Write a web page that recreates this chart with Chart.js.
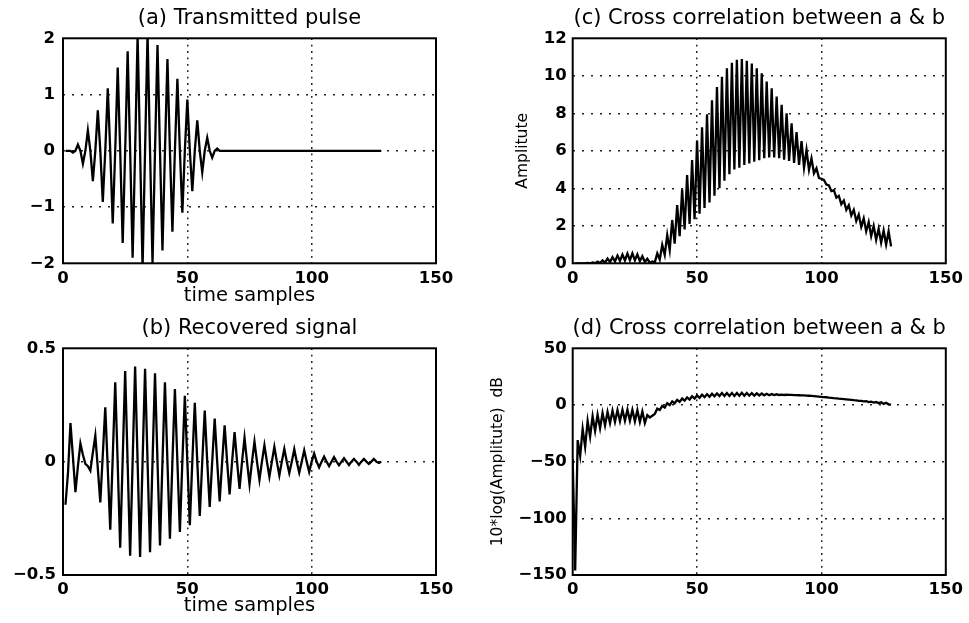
<!DOCTYPE html>
<html>
<head>
<meta charset="utf-8">
<script src="https://cdn.jsdelivr.net/npm/chart.js@4/dist/chart.umd.min.js"></script>
<style>
  html, body { margin: 0; padding: 0; background: #fff; }
  #fig { position: relative; width: 969px; height: 623px; background: #fff; }
  #fig canvas { position: absolute; }
</style>
</head>
<body>
<div id="fig">
  <canvas id="chartA" width="485" height="311" style="left:0;top:0"></canvas>
  <canvas id="chartC" width="484" height="311" style="left:485px;top:0"></canvas>
  <canvas id="chartB" width="485" height="312" style="left:0;top:311px"></canvas>
  <canvas id="chartD" width="484" height="312" style="left:485px;top:311px"></canvas>
</div>
<script>
// tick positions
const xTickValues = [0, 50, 100, 150];
const pulseTicks = [-2, -1, 0, 1, 2];
const recoveredTicks = [-0.5, 0, 0.5];
const ampTicks = [0, 2, 4, 6, 8, 10, 12];
const dbTicks = [-150, -100, -50, 0, 50];

// (a) transmitted pulse, samples 1..128
const pulseA = [
  0, 0, 0, -0.03, 0, 0.11, 0, -0.23, 0, 0.36,
  0, -0.54, 0, 0.72, 0, -0.91, 0, 1.11, 0, -1.29,
  0, 1.48, 0, -1.64, 0, 1.77, 0, -1.9, 0, 2.05,
  0, -2.08, 0, 2.08, 0, -2.0, 0, 1.88, 0, -1.77,
  0, 1.63, 0, -1.44, 0, 1.28, 0, -1.1, 0, 0.91,
  0, -0.72, 0, 0.54, 0, -0.38, 0, 0.23, 0, -0.12,
  0, 0.04, 0, 0, 0, 0, 0, 0, 0, 0,
  0, 0, 0, 0, 0, 0, 0, 0, 0, 0,
  0, 0, 0, 0, 0, 0, 0, 0, 0, 0,
  0, 0, 0, 0, 0, 0, 0, 0, 0, 0,
  0, 0, 0, 0, 0, 0, 0, 0, 0, 0,
  0, 0, 0, 0, 0, 0, 0, 0, 0, 0,
  0, 0, 0, 0, 0, 0, 0, 0
];

// (b) recovered signal, samples 1..128
const recoveredB = [
  -0.19, -0.05, 0.17, 0.02, -0.135, -0.02, 0.08, 0.03, -0.01, -0.02,
  -0.04, 0.04, 0.115, -0.03, -0.18, 0.03, 0.24, -0.03, -0.30, 0.02,
  0.35, -0.01, -0.38, 0.01, 0.40, -0.01, -0.415, 0.0, 0.42, 0.0,
  -0.42, 0.0, 0.41, 0.0, -0.40, 0.0, 0.39, 0.0, -0.37, 0.0,
  0.35, 0.0, -0.34, 0.0, 0.32, 0.0, -0.31, 0.0, 0.29, 0.0,
  -0.28, 0.0, 0.26, 0.0, -0.24, 0.0, 0.225, 0.0, -0.20, 0.0,
  0.19, 0.0, -0.175, 0.0, 0.16, 0.0, -0.145, 0.0, 0.13, 0.0,
  -0.12, 0.0, 0.105, 0.0, -0.10, 0.0, 0.088, 0.0, -0.08, 0.0,
  0.072, 0.0, -0.066, 0.0, 0.065, 0.0, -0.06, 0.0, 0.057, 0.0,
  -0.05, 0.0, 0.055, 0.0, -0.048, 0.0, 0.05, 0.0, -0.045, 0.0,
  0.035, 0.0, -0.025, 0.0, 0.022, 0.0, -0.02, 0.0, 0.02, 0.0,
  -0.016, 0.0, 0.015, 0.0, -0.015, 0.0, 0.012, 0.0, -0.014, 0.0,
  0.012, 0.0, -0.01, 0.0, 0.012, 0.0, -0.006, 0.0
];

// (c) cross correlation amplitude, lags 1..128
const corrAmp = [
  0, 0, 0, 0, 0, 0.02, 0, 0.04, 0.01, 0.09,
  0.02, 0.16, 0.04, 0.25, 0.07, 0.33, 0.1, 0.41, 0.13, 0.47,
  0.15, 0.52, 0.17, 0.53, 0.16, 0.48, 0.12, 0.38, 0.07, 0.24,
  0.03, 0.1, 0.05, 0.53, 0.2, 0.98, 0.45, 1.51, 0.7, 2.31,
  1.05, 3.11, 1.45, 3.95, 1.8, 4.71, 2.1, 5.51, 2.35, 6.55,
  2.65, 7.25, 2.95, 7.95, 3.25, 8.7, 3.6, 9.4, 4.0, 9.95,
  4.4, 10.4, 4.75, 10.7, 5.0, 10.85, 5.1, 10.9, 5.25, 10.8,
  5.33, 10.65, 5.42, 10.4, 5.5, 10.13, 5.6, 9.7, 5.64, 9.33,
  5.64, 8.9, 5.6, 8.45, 5.52, 8.0, 5.46, 7.47, 5.35, 7.0,
  5.25, 6.52, 5.1, 6.04, 4.98, 5.6, 4.8, 5.07, 4.55, 4.5,
  4.45, 4.2, 4.15, 3.85, 3.9, 3.5, 3.6, 3.15, 3.35, 2.85,
  3.1, 2.55, 2.85, 2.25, 2.6, 1.95, 2.4, 1.7, 2.2, 1.45,
  2.0, 1.25, 1.85, 1.1, 1.75, 1.0, 1.7, 0.9
];

// (d) cross correlation in dB, lags 0..128
const corrDb = [
  -48, -146, -31, -45, -21, -37, -14, -28, -10, -23,
  -8.5, -20.5, -7, -18, -6, -16, -5, -14.8, -4.5, -14.3,
  -4.3, -14, -4.2, -14, -4.3, -14.4, -4.6, -15, -5.8, -16,
  -9, -11, -9.5, -8, -3.3, -4.5, -0.8, -2.3, 1.5, -0.1,
  3.2, 1.5, 4.5, 2.7, 5.7, 3.8, 6.7, 4.8, 7.7, 5.7,
  8.4, 6.3, 9.0, 6.9, 9.5, 7.3, 9.9, 7.6, 10.2, 7.9,
  10.5, 7.9, 10.5, 8.0, 10.6, 8.0, 10.6, 8.1, 10.7, 8.1,
  10.6, 8.2, 10.5, 8.3, 10.3, 8.4, 10.1, 8.5, 9.9, 8.6,
  9.6, 8.7, 9.4, 8.8, 9.2, 8.8, 9.0, 8.85, 8.85, 8.75,
  8.7, 8.6, 8.5, 8.4, 8.3, 8.15, 8.0, 7.85, 7.65, 7.45,
  7.2, 7.0, 6.8, 6.55, 6.35, 6.1, 5.9, 5.65, 5.45, 5.2,
  4.95, 4.7, 4.45, 4.2, 4.0, 3.6, 3.6, 3.1, 3.3, 2.6,
  3.0, 2.1, 2.6, 1.6, 2.3, 1.0, 2.0, 0.6, 0.3
];

Chart.defaults.font.family = '"DejaVu Sans", sans-serif';
Chart.defaults.color = '#000';

const tickFont = { family: '"DejaVu Sans"', size: 16.5, weight: 'bold' };
const labelFont = { family: '"DejaVu Sans"', size: 19.5 };
const yLabelFont = { family: '"DejaVu Sans"', size: 15.5 };

function series(values, first) {
  return values.map((v, i) => ({ x: first + i, y: v }));
}

function minus(v) {
  return String(v).replace('-', '\u2212');
}

// box around the axes plus the panel title
const panelFrame = {
  id: 'panelFrame',
  afterDraw(chart, args, opts) {
    const { ctx, chartArea: { left, top, right, bottom } } = chart;
    ctx.save();
    ctx.strokeStyle = '#000';
    ctx.lineWidth = 2;
    ctx.strokeRect(left, top, right - left, bottom - top);
    ctx.fillStyle = '#000';
    ctx.font = '21px "DejaVu Sans"';
    ctx.textAlign = 'center';
    ctx.textBaseline = 'middle';
    ctx.fillText(opts.title, (left + right) / 2, opts.titleY);
    ctx.restore();
  }
};

function hideEdges(ticks) {
  const lo = ticks[0], hi = ticks[ticks.length - 1];
  return c => (c.tick && (c.tick.value === lo || c.tick.value === hi)) ? 'rgba(0,0,0,0)' : '#222';
}

function makePanel(id, p) {
  const ctx = document.getElementById(id).getContext('2d');
  return new Chart(ctx, {
    type: 'line',
    data: {
      datasets: [{
        data: p.points,
        borderColor: '#000',
        borderWidth: 2.3,
        pointRadius: 0,
        tension: 0,
        fill: false
      }]
    },
    options: {
      responsive: false,
      animation: false,
      events: [],
      layout: { padding: { left: 0, right: p.padRight, top: p.padTop, bottom: 0 } },
      plugins: {
        legend: { display: false },
        tooltip: { enabled: false },
        panelFrame: { title: p.title, titleY: p.titleY }
      },
      scales: {
        x: {
          type: 'linear',
          min: 0,
          max: 150,
          afterBuildTicks: s => { s.ticks = xTickValues.map(v => ({ value: v })); },
          afterFit: s => { s.height = p.xHeight; },
          ticks: { font: tickFont, color: '#000', padding: p.xPad, maxRotation: 0, autoSkip: false },
          grid: { color: hideEdges(xTickValues), lineWidth: 1.5, drawTicks: false },
          border: { display: false, dash: [1.8, 4.6] },
          title: p.xTitle
            ? { display: true, text: p.xTitle, color: '#000', font: labelFont, padding: { top: 0, bottom: p.xTitlePad } }
            : { display: false }
        },
        y: {
          type: 'linear',
          min: p.yTicks[0],
          max: p.yTicks[p.yTicks.length - 1],
          afterBuildTicks: s => { s.ticks = p.yTicks.map(v => ({ value: v })); },
          afterFit: s => { s.width = p.yWidth; },
          ticks: { font: tickFont, color: '#000', padding: p.yPad, callback: v => minus(v) },
          grid: { color: hideEdges(p.yTicks), lineWidth: 1.5, drawTicks: false },
          border: { display: false, dash: [2, 7] },
          title: p.yTitle
            ? { display: true, text: p.yTitle, color: '#000', font: yLabelFont, padding: { top: p.yTitlePad, bottom: 0 } }
            : { display: false }
        }
      }
    },
    plugins: [panelFrame]
  });
}

makePanel('chartA', {
  points: series(pulseA, 1),
  title: '(a) Transmitted pulse', titleY: 18.5,
  yTicks: pulseTicks, yWidth: 63, yPad: 8,
  padRight: 49, padTop: 38.3, xHeight: 47.7, xPad: 5.5,
  xTitle: 'time samples', xTitlePad: 3.8
});

makePanel('chartB', {
  points: series(recoveredB, 1),
  title: '(b) Recovered signal', titleY: 17.5,
  yTicks: recoveredTicks, yWidth: 63, yPad: 7,
  padRight: 49, padTop: 37.3, xHeight: 48, xPad: 5,
  xTitle: 'time samples', xTitlePad: 5.8
});

makePanel('chartC', {
  points: series(corrAmp, 1),
  title: '(c) Cross correlation between a & b', titleY: 18.5,
  yTicks: ampTicks, yWidth: 87.7, yPad: 6,
  padRight: 23.2, padTop: 38.3, xHeight: 47.7, xPad: 5.5,
  yTitle: 'Amplitute', yTitlePad: 28.7
});

makePanel('chartD', {
  points: series(corrDb, 0),
  title: '(d) Cross correlation between a & b', titleY: 17.5,
  yTicks: dbTicks, yWidth: 87.7, yPad: 6,
  padRight: 23.2, padTop: 37.3, xHeight: 48, xPad: 5,
  yTitle: '10*log(Amplitute)  dB', yTitlePad: 3.2
});
</script>
</body>
</html>
